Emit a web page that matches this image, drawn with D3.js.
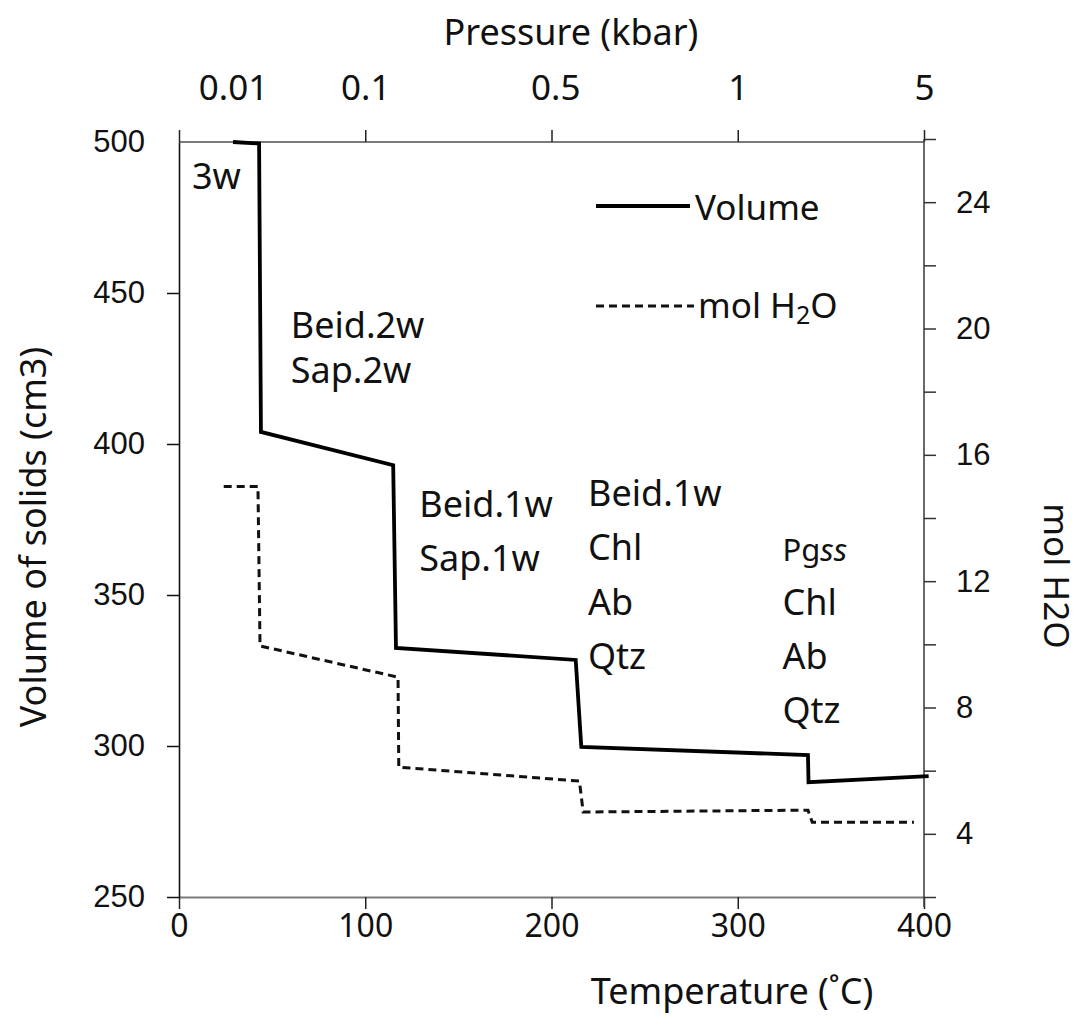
<!DOCTYPE html>
<html>
<head>
<meta charset="utf-8">
<script src="https://cdn.jsdelivr.net/npm/d3@7"></script>
<style>
  body { margin: 0; background: #fff; }
  text { fill: #111; }
  .lab { font-family: "Noto Sans", sans-serif; }
  .num { font-family: "Liberation Sans", Arial, sans-serif; }
</style>
</head>
<body>
<div id="chart"></div>
<script>
var svgWidth = 1085;
var svgHeight = 1034;

// Data
var volTemp = [29, 43, 44, 115, 116.5, 213, 216, 337.7, 338, 402.5];
var volValue = [500, 499.5, 404, 393, 332.5, 328.5, 299.7, 297, 288, 290];

var h2oTemp = [24, 42.4, 43.5, 117.6, 118, 215, 217, 337.7, 340, 394.6];
var h2oValue = [15, 15, 9.95, 8.96, 6.11, 5.67, 4.69, 4.75, 4.37, 4.37];

var tempTicks = [0, 100, 200, 300, 400];
var volTicks = [250, 300, 350, 400, 450, 500];
var h2oTicks = [2, 4, 6, 8, 10, 12, 14, 16, 18, 20, 22, 24, 26];
var pressureLabels = ["0.01", "0.1", "0.5", "1", "5"];
var pressureTemp = [29, 100, 202, 300, 400];

var phaseLabels = [
  ["3w"],
  ["Beid.2w", "Sap.2w"],
  ["Beid.1w", "Sap.1w"],
  ["Beid.1w", "Chl", "Ab", "Qtz"],
  ["Pgss", "Chl", "Ab", "Qtz"]
];

var svg = d3.select("#chart")
  .append("svg")
  .attr("width", svgWidth)
  .attr("height", svgHeight);

// scales
var x = d3.scaleLinear().domain([0, 400]).range([179, 924]);
var yVol = d3.scaleLinear().domain([250, 500]).range([897, 142]);
var yH2o = d3.scaleLinear().domain([2, 26]).range([897, 139]);

// frame line on top (grey)
svg.append("line")
  .attr("x1", x(0)).attr("x2", x(400))
  .attr("y1", yVol(500)).attr("y2", yVol(500))
  .attr("stroke", "#7a7a7a").attr("stroke-width", 2);

// bottom axis
var bottomAxis = d3.axisBottom(x).tickValues(tempTicks).tickSize(12).tickSizeOuter(0).tickPadding(5);
var gb = svg.append("g")
  .attr("transform", `translate(0, ${yVol(250)})`)
  .call(bottomAxis);
gb.select(".domain").attr("stroke", "#7a7a7a").attr("stroke-width", 2);
gb.selectAll(".tick line").attr("stroke", "#222").attr("stroke-width", 1.5);
gb.selectAll("text").attr("class", "lab").attr("font-size", 32).attr("fill", "#111");

// top axis (ticks only) + pressure labels
var topAxis = d3.axisTop(x).tickValues(tempTicks).tickSize(12).tickSizeOuter(0).tickFormat("");
var gt = svg.append("g")
  .attr("transform", `translate(0, ${yVol(500)})`)
  .call(topAxis);
gt.select(".domain").remove();
gt.selectAll(".tick line").attr("stroke", "#222").attr("stroke-width", 1.5);

var pressAxis = d3.axisTop(x).tickValues(pressureTemp).tickSize(0).tickPadding(42)
  .tickFormat(function(d, i) { return pressureLabels[i]; });
var gp = svg.append("g")
  .attr("transform", `translate(0, ${yVol(500)})`)
  .call(pressAxis);
gp.select(".domain").remove();
gp.selectAll("text").attr("class", "lab").attr("font-size", 35).attr("fill", "#111");

// left axis
var leftAxis = d3.axisLeft(yVol).tickValues(volTicks).tickSize(12).tickSizeOuter(0).tickPadding(22);
var gl = svg.append("g")
  .attr("transform", `translate(${x(0)}, 0)`)
  .call(leftAxis);
gl.select(".domain").attr("stroke", "#111").attr("stroke-width", 1.6);
gl.selectAll(".tick line").attr("stroke", "#111").attr("stroke-width", 1.5);
gl.selectAll(".tick").filter(d => d === 500).select("line").remove();
gl.selectAll("text").attr("class", "num").attr("font-size", 31).attr("fill", "#111");

// right axis
var rightAxis = d3.axisRight(yH2o).tickValues(h2oTicks).tickSize(12).tickSizeOuter(0).tickPadding(20)
  .tickFormat(d => (d % 4 === 0 && d >= 4 && d <= 24) ? d : "");
var gr = svg.append("g")
  .attr("transform", `translate(${x(400)}, 0)`)
  .call(rightAxis);
gr.select(".domain").attr("stroke", "#444").attr("stroke-width", 1.6)
  .attr("d", `M0,${yH2o(26)}V${yVol(250) + 10}`);
gr.selectAll(".tick line").attr("stroke", "#333").attr("stroke-width", 1.5);
gr.selectAll("text").attr("class", "num").attr("font-size", 31).attr("fill", "#111");

// lines
var volLine = d3.line()
  .x(d => x(d[0]))
  .y(d => yVol(d[1]));
var h2oLine = d3.line()
  .x(d => x(d[0]))
  .y(d => yH2o(d[1]));

svg.append("path")
  .datum(h2oTemp.map((t, i) => [t, h2oValue[i]]))
  .attr("d", h2oLine)
  .attr("fill", "none")
  .attr("stroke", "#111")
  .attr("stroke-width", 3)
  .attr("stroke-dasharray", "8,5");

svg.append("path")
  .datum(volTemp.map((t, i) => [t, volValue[i]]))
  .attr("d", volLine)
  .attr("fill", "none")
  .attr("stroke", "#000")
  .attr("stroke-width", 3.8)
  .attr("stroke-linejoin", "miter");

// phase labels, anchored in data units
var phaseAnchor = [[7, 484.4], [60, 435], [129, 375.8], [219.6, 379.5], [324, 361.3]];
var phaseStep = [45, 45, 54, 54.5, 54];

phaseLabels.forEach(function(lines, g) {
  var t = svg.append("text")
    .attr("class", "lab")
    .attr("font-size", 36)
    .attr("x", x(phaseAnchor[g][0]))
    .attr("y", yVol(phaseAnchor[g][1]));
  lines.forEach(function(s, i) {
    var ts = t.append("tspan")
      .attr("x", x(phaseAnchor[g][0]))
      .attr("y", yVol(phaseAnchor[g][1]) + i * phaseStep[g]);
    if (s === "Pgss") {
      ts.attr("font-size", 31).text("Pg");
      ts.append("tspan").attr("font-style", "italic").text("ss");
    } else {
      ts.text(s);
    }
  });
});

// legend
var legend = svg.append("g").attr("class", "lab");
legend.append("line")
  .attr("x1", 596).attr("x2", 690).attr("y1", 206).attr("y2", 206)
  .attr("stroke", "#000").attr("stroke-width", 3.8);
legend.append("text")
  .attr("x", 695).attr("y", 220).attr("font-size", 35).text("Volume");
legend.append("line")
  .attr("x1", 596).attr("x2", 694).attr("y1", 306).attr("y2", 306)
  .attr("stroke", "#111").attr("stroke-width", 3).attr("stroke-dasharray", "8,5");
var lt = legend.append("text")
  .attr("x", 698).attr("y", 318).attr("font-size", 35);
lt.append("tspan").text("mol H");
lt.append("tspan").attr("font-size", 25).attr("dy", 6).text("2");
lt.append("tspan").attr("dy", -6).text("O");

// axis titles
svg.append("text")
  .attr("class", "lab")
  .attr("x", 571).attr("y", 45)
  .attr("font-size", 36)
  .attr("text-anchor", "middle")
  .text("Pressure (kbar)");

svg.append("text")
  .attr("class", "lab")
  .attr("x", 732).attr("y", 1004)
  .attr("font-size", 36)
  .attr("text-anchor", "middle")
  .text("Temperature (˚C)");

svg.append("text")
  .attr("class", "lab")
  .attr("transform", "translate(46, 537) rotate(-90)")
  .attr("font-size", 36)
  .attr("text-anchor", "middle")
  .text("Volume of solids (cm3)");

svg.append("text")
  .attr("class", "lab")
  .attr("transform", "translate(1044, 576) rotate(90)")
  .attr("font-size", 35)
  .attr("text-anchor", "middle")
  .text("mol H2O");
</script>
</body>
</html>
